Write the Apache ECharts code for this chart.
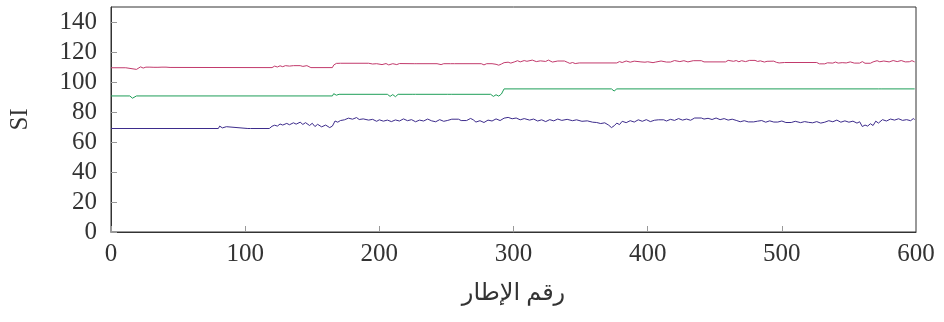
<!DOCTYPE html>
<html>
<head>
<meta charset="utf-8">
<script src="https://cdn.jsdelivr.net/npm/echarts@6/dist/echarts.min.js"></script>
<style>
  html, body { margin: 0; padding: 0; background: #fff; }
  #chart { width: 944px; height: 322px; }
</style>
</head>
<body>
<div id="chart"></div>
<script>
// Frame-by-frame SI values, stored as [frame, SI] pairs
const redSeries = [[0,109.5],[11,109.5],[12,108.4],[19,108.4],[20,109.6],[22,110.1],[24,109.3],[26,109.9],[29,109.9],[30,109.1],[32,109.8],[35,109.8],[36,109.2],[38,109.9],[41,109.9],[42,109.1],[44,109.7],[120,109.6],[122,110.6],[124,110.0],[126,110.8],[128,110.2],[130,110.9],[133,110.6],[136,110.9],[141,110.9],[143,110.4],[146,110.9],[147,110.0],[149,109.6],[165,109.6],[166,111.3],[168,112.4],[169,111.7],[171,112.5],[192,112.5],[195,112.0],[198,112.2],[202,111.6],[205,112.3],[207,111.4],[210,112.2],[213,111.6],[215,112.3],[226,112.2],[227,111.5],[228,112.2],[240,112.2],[241,111.5],[243,112.2],[246,111.6],[248,112.2],[253,112.2],[254,111.4],[256,112.2],[276,112.2],[278,111.4],[280,112.2],[284,112.2],[285,111.2],[287,111.8],[289,111.2],[291,112.0],[293,112.9],[296,113.2],[298,112.6],[301,113.5],[303,114.2],[305,113.4],[308,114.3],[310,113.8],[314,114.6],[317,113.6],[320,114.1],[324,113.7],[326,114.6],[329,113.3],[333,114.0],[338,114.0],[340,113.2],[342,112.4],[344,113.0],[346,112.3],[349,112.7],[377,112.7],[379,113.6],[381,113.0],[384,114.0],[387,113.2],[390,113.9],[395,113.4],[398,113.2],[400,113.5],[404,112.9],[406,113.3],[410,114.0],[414,113.3],[417,113.3],[420,114.3],[424,113.6],[427,114.2],[430,113.4],[434,114.2],[440,114.2],[442,113.4],[458,113.4],[460,114.4],[464,113.8],[466,114.3],[468,113.5],[470,114.2],[473,113.6],[476,114.4],[480,114.4],[482,113.7],[484,114.1],[487,113.3],[489,113.8],[494,113.9],[496,113.1],[498,112.7],[502,113.0],[526,113.0],[528,112.1],[532,112.1],[534,112.8],[538,112.6],[540,113.3],[542,112.6],[545,112.9],[548,112.7],[551,113.4],[554,112.6],[558,112.6],[560,113.6],[562,112.5],[566,112.5],[568,113.4],[571,114.2],[573,113.5],[576,114.0],[580,113.4],[583,114.3],[586,113.6],[589,114.3],[592,113.4],[595,113.5],[597,114.2],[599,113.4]];

const greenSeries = [[0,90.7],[14,90.7],[16,89.2],[17,89.2],[19,90.7],[165,90.7],[166,92.2],[168,91.2],[170,91.8],[206,91.8],[208,90.4],[210,91.6],[212,90.2],[214,91.8],[225,91.8],[226,91.0],[227,91.8],[251,91.8],[252,90.8],[254,91.8],[283,91.8],[285,90.4],[287,91.5],[289,90.6],[291,92.0],[293,95.4],[373,95.4],[375,94.0],[377,95.4],[572,95.4],[573,96.2],[574,95.4],[599,95.4]];

const blueSeries = [[0,69.0],[80,69.0],[81,70.6],[83,69.4],[86,70.2],[87,69.0],[102,69.0],[103,70.3],[104,69.0],[118,69.0],[120,70.5],[122,71.2],[124,70.6],[126,72.0],[128,71.3],[131,72.4],[133,71.5],[136,72.8],[138,71.9],[141,73.2],[143,71.7],[145,72.9],[148,71.0],[150,72.5],[152,70.3],[154,71.8],[157,70.1],[160,71.3],[163,69.6],[165,70.6],[167,74.0],[169,73.2],[171,74.3],[174,74.8],[177,75.9],[180,75.2],[183,76.3],[185,75.0],[188,75.4],[192,74.6],[195,75.1],[198,73.8],[200,74.8],[203,73.9],[206,74.6],[209,73.6],[212,74.7],[215,74.0],[218,75.4],[221,74.2],[224,74.9],[227,73.5],[230,74.6],[233,74.0],[236,75.3],[239,74.1],[242,73.5],[245,74.9],[248,73.8],[251,74.4],[254,75.2],[259,75.2],[261,74.3],[265,74.3],[268,75.7],[270,74.8],[272,73.3],[275,74.2],[278,73.0],[281,74.6],[284,74.0],[287,75.4],[290,74.3],[293,75.9],[296,76.4],[299,75.5],[302,76.0],[305,74.8],[308,75.6],[312,74.6],[315,75.3],[318,74.0],[321,74.8],[324,73.6],[327,74.9],[330,74.1],[333,75.3],[336,74.4],[340,75.1],[344,74.2],[347,74.8],[351,73.8],[355,74.1],[359,73.2],[362,73.0],[365,72.3],[368,72.8],[371,71.2],[373,69.6],[375,70.8],[377,72.6],[379,71.6],[381,73.8],[384,72.9],[387,74.2],[390,73.3],[393,74.8],[396,73.8],[399,74.9],[402,73.6],[405,74.5],[408,74.8],[412,74.8],[414,74.0],[417,75.1],[420,74.4],[423,75.6],[426,74.6],[429,75.3],[432,74.5],[435,76.0],[440,76.0],[442,75.3],[445,75.8],[448,75.0],[451,76.0],[454,74.9],[457,75.6],[460,74.6],[463,75.2],[466,74.4],[469,73.5],[472,74.2],[475,73.4],[479,73.4],[482,73.9],[485,74.3],[488,73.2],[491,74.1],[494,73.3],[497,73.3],[500,74.0],[503,73.0],[507,73.0],[510,73.8],[514,72.9],[517,73.6],[520,73.1],[523,72.8],[526,73.6],[529,72.6],[532,73.2],[535,74.2],[538,73.5],[541,74.6],[544,73.2],[547,74.1],[550,73.2],[553,73.9],[556,72.6],[558,73.5],[560,70.3],[562,71.3],[564,70.6],[566,72.2],[568,71.0],[570,73.9],[572,72.6],[575,74.9],[578,74.0],[581,75.3],[584,74.6],[587,75.5],[590,74.4],[593,74.9],[596,74.2],[598,75.6],[599,75.0]];

// Axis settings
const xTicks = [0, 100, 200, 300, 400, 500, 600];
const yTicks = [0, 20, 40, 60, 80, 100, 120, 140];
const xTitle = 'رقم الإطار';
const yTitle = 'SI';

const serif = "'Liberation Serif', 'Times New Roman', serif";
const arabicFont = "'Liberation Serif', 'DejaVu Sans', serif";
const textColor = '#333';
const fontSize = 25;

const chart = echarts.init(document.getElementById('chart'), null, { renderer: 'canvas' });

function lineSeries(data, color) {
  return {
    type: 'line',
    data: data,
    symbol: 'none',
    smooth: false,
    animation: false,
    lineStyle: { color: color, width: 1 },
    itemStyle: { color: color }
  };
}

chart.setOption({
  animation: false,
  backgroundColor: '#fff',
  grid: {
    left: 110, right: 28, top: 7, bottom: 90,
    show: true, borderColor: '#333', borderWidth: 1, backgroundColor: 'transparent'
  },
  xAxis: {
    type: 'value',
    min: xTicks[0],
    max: xTicks[xTicks.length - 1],
    interval: xTicks[1] - xTicks[0],
    name: xTitle,
    nameLocation: 'middle',
    nameGap: 50,
    nameTextStyle: { fontFamily: arabicFont, fontSize: 24, color: textColor },
    axisLine: { show: true, lineStyle: { color: '#333', width: 1 } },
    axisTick: { show: true, inside: true, length: 6, lineStyle: { color: '#999' } },
    axisLabel: { fontFamily: serif, fontSize: fontSize, color: textColor, margin: 10 },
    splitLine: { show: false }
  },
  yAxis: {
    type: 'value',
    min: yTicks[0],
    max: 150,
    interval: yTicks[1] - yTicks[0],
    name: yTitle,
    nameLocation: 'middle',
    nameGap: 78,
    nameRotate: 90,
    nameTextStyle: { fontFamily: serif, fontSize: fontSize, color: textColor },
    axisLine: { show: true, lineStyle: { color: '#333', width: 1 } },
    axisTick: { show: true, inside: true, length: 6, lineStyle: { color: '#999' } },
    axisLabel: {
      fontFamily: serif, fontSize: fontSize, color: textColor, margin: 14,
      showMaxLabel: false,
      formatter: v => (yTicks.indexOf(v) >= 0 ? String(v) : '')
    },
    splitLine: { show: false }
  },
  series: [
    lineSeries(redSeries, '#c23a6c'),
    lineSeries(greenSeries, '#1e9e58'),
    lineSeries(blueSeries, '#3d2c8c')
  ]
});
</script>
</body>
</html>
